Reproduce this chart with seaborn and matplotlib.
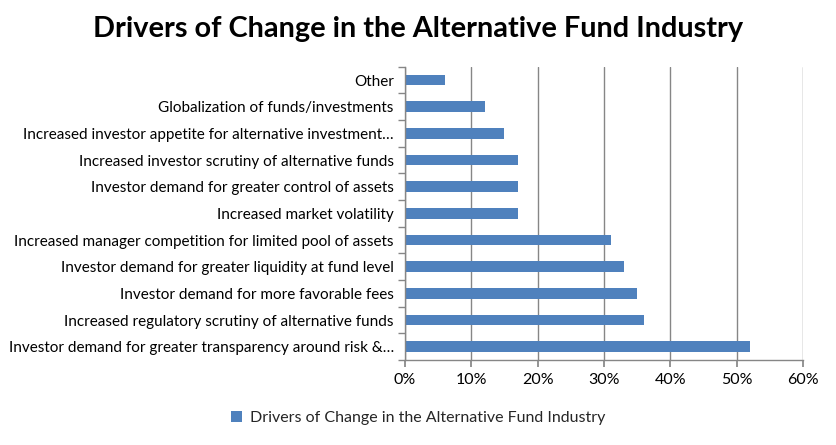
import matplotlib
matplotlib.use("Agg")
import matplotlib.pyplot as plt
import seaborn as sns
import pandas as pd
from matplotlib.ticker import PercentFormatter, FixedLocator

categories = [
    "Other",
    "Globalization of funds/investments",
    "Increased investor appetite for alternative investment…",
    "Increased investor scrutiny of alternative funds",
    "Investor demand for greater control of assets",
    "Increased market volatility",
    "Increased manager competition for limited pool of assets",
    "Investor demand for greater liquidity at fund level",
    "Investor demand for more favorable fees",
    "Increased regulatory scrutiny of alternative funds",
    "Investor demand for greater transparency around risk &…",
]
values = [6, 12, 15, 17, 17, 17, 31, 33, 35, 36, 52]
series_name = "Drivers of Change in the Alternative Fund Industry"

df = pd.DataFrame({"cat": categories, "val": values, "series": series_name})

sns.set_theme(style="white")
plt.rcParams['font.family'] = ['Lato', 'DejaVu Sans']

fig = plt.figure(figsize=(8.36, 4.45), dpi=100)
ax = fig.add_axes([0.4844, 0.191, 0.4761, 0.659])

sns.barplot(data=df, x="val", y="cat", hue="series", order=categories,
            palette=["#4F81BD"], saturation=1, width=0.4, linewidth=0,
            ax=ax, orient="h", legend=True)

ax.set_xlim(0, 60)
ax.set_xticks([0, 10, 20, 30, 40, 50, 60])
ax.xaxis.set_major_formatter(PercentFormatter(decimals=0))
ax.set_ylim(len(categories) - 0.5, -0.5)
ax.grid(axis="x", color="#868686", linewidth=1)
ax.set_axisbelow(True)
ax.set_xlabel("")
ax.set_ylabel("")
for s in ["top", "right"]:
    ax.spines[s].set_visible(False)
for s in ["left", "bottom"]:
    ax.spines[s].set_color("#868686")
    ax.spines[s].set_linewidth(1)

ax.tick_params(axis="x", which="major", direction="out", length=5, color="#868686",
               bottom=True, labelsize=11.5, labelcolor="#000000", pad=4)
ax.tick_params(axis="y", which="major", length=0, labelsize=11, labelcolor="#000000", pad=8)
ax.yaxis.set_minor_locator(FixedLocator([i - 0.5 for i in range(len(categories) + 1)]))
ax.tick_params(axis="y", which="minor", direction="out", length=5, color="#868686", left=True)

fig.suptitle("Drivers of Change in the Alternative Fund Industry", x=0.5, y=0.965,
             fontsize=20.8, fontweight="bold", color="#000000")

handles, labels = ax.get_legend_handles_labels()
ax.legend_.remove()
fig.legend(handles, labels, loc="center", bbox_to_anchor=(0.5, 0.06), frameon=False,
           fontsize=11.5, handlelength=0.7, handleheight=0.7, handletextpad=0.5)

fig.savefig("out.png", dpi=100)
